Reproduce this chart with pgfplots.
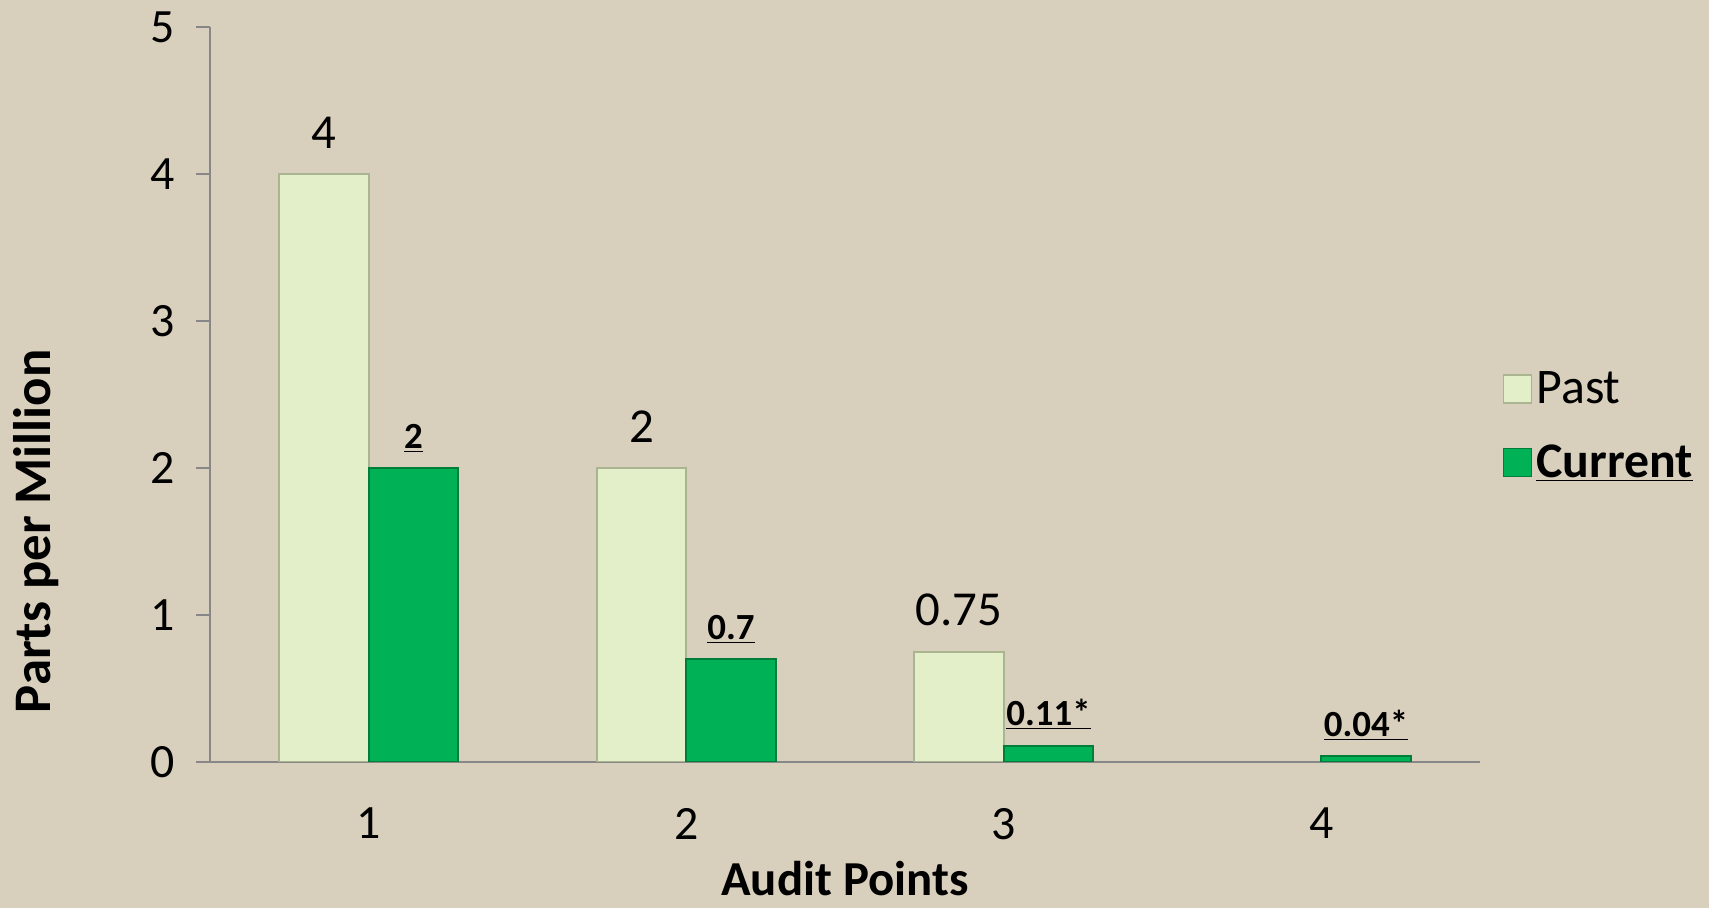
\documentclass[border=0pt]{standalone}
\usepackage{pgfplots}
\pgfplotsset{compat=1.18}
\usepackage{fontspec}
\setmainfont{Carlito}
\definecolor{bg}{RGB}{216,207,188}
\definecolor{pastfill}{RGB}{227,239,201}
\definecolor{pastedge}{RGB}{170,180,145}
\definecolor{curfill}{RGB}{0,178,85}
\definecolor{curedge}{RGB}{0,125,58}
\definecolor{axgray}{RGB}{135,135,135}
\begin{document}
\begin{tikzpicture}
\fill[bg] (0,0) rectangle (854.5bp,454bp);
\useasboundingbox (0,0) rectangle (854.5bp,454bp);
\begin{axis}[at={(105bp,73bp)}, anchor=south west, scale only axis,
  width=635bp, height=367.5bp,
  ybar=0bp, bar width=44.75bp,
  xmin=0.5, xmax=4.5, ymin=0, ymax=5,
  xtick={1,2,3,4}, ytick={0,1,2,3,4,5},
  axis x line=bottom, axis y line=left,
  axis line style={draw=axgray, line width=1bp, -},
  major tick length=7bp, tick align=outside,
  xtick style={draw=none}, ytick style={draw=axgray, line width=1bp},
  ticklabel style={font=\fontsize{24}{28}\selectfont},
  xticklabel style={yshift=-12.5bp},
  yticklabel style={xshift=-7bp},
  /pgf/number format/assume math mode=true,
  xlabel={\textbf{Audit Points}},
  ylabel={\textbf{Parts per Million}},
  xlabel style={at={(axis description cs:0.5,-0.158)}, anchor=center, font=\fontsize{24.5}{29}\selectfont},
  ylabel style={at={(axis description cs:-0.137,0.314)}, anchor=center, font=\fontsize{26.5}{31}\selectfont},
  legend image code/.code={\draw[#1,/tikz/.cd] (0bp,-7bp) rectangle (14bp,7bp);},
  legend style={at={(axis description cs:1.013,0.457)}, anchor=west, draw=none, fill=none,
    font=\fontsize{25}{30}\selectfont, row sep=15bp},
  legend cell align=left,
  point meta=explicit symbolic,
  nodes near coords,
]
\addplot[fill=pastfill, draw=pastedge, line width=0.8bp,
  nodes near coords style={anchor=south, inner sep=0pt, yshift=12.5bp, font=\fontsize{24.5}{28}\selectfont}]
  coordinates {(1,4) [4] (2,2) [2] (3,0.75) [0.75]};
\addplot[fill=curfill, draw=curedge, line width=0.8bp,
  nodes near coords style={anchor=south, inner sep=0pt, yshift=7.5bp, font=\bfseries\fontsize{18.5}{22}\selectfont}]
  coordinates {(1,2) [{\underline{2}}] (2,0.7) [{\underline{0.7}}] (3,0.11) [{\underline{0.11*}}] (4,0.04) [{\underline{0.04*}}]};
\legend{Past, \textbf{\underline{Current}}}
\end{axis}
\end{tikzpicture}
\end{document}
